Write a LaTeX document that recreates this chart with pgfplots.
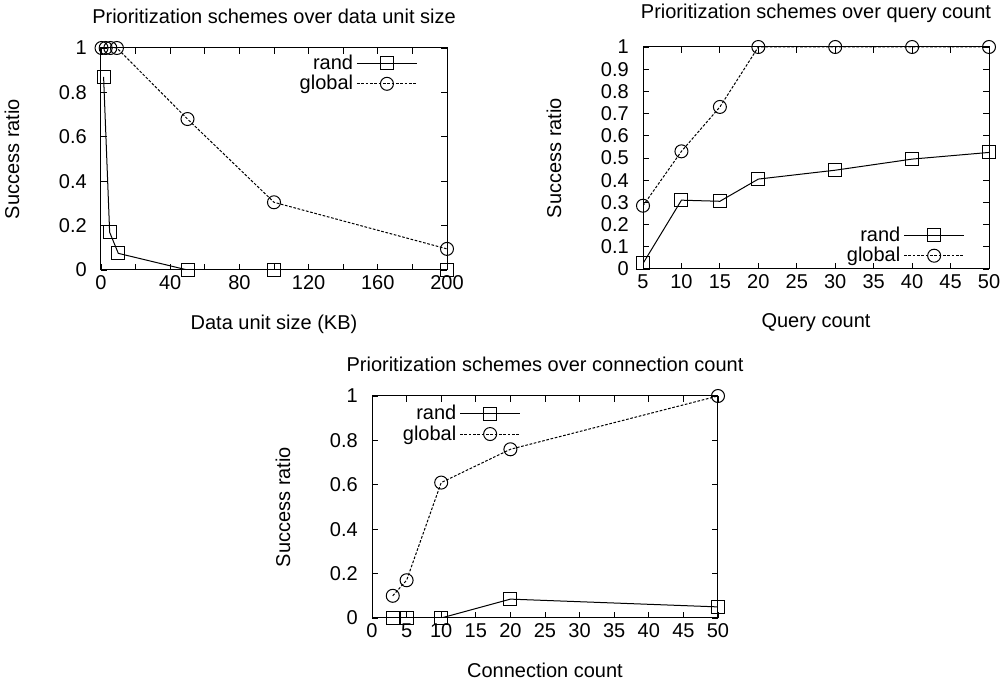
\documentclass[border=0pt]{standalone}
\usepackage{fontspec}
\setmainfont{Liberation Sans}
\usepackage{pgfplots}
\pgfplotsset{compat=1.18}

\pgfplotsset{
  gp/.style={
    scale only axis,
    width=346*0.6pt, height=222*0.6pt,
    anchor=south west,
    font=\fontsize{12}{14}\selectfont,
    /pgf/number format/assume math mode=true,
    ymin=0, ymax=1,
    tick align=inside,
    major tick length=3.5pt,
    minor tick length=3.5pt,
    axis line style={line width=0.6pt},
    every tick/.style={black, line width=0.5pt},
    ylabel={Success ratio},
    title style={yshift=5pt},
    ylabel style={yshift=17pt},
    xlabel style={yshift=-8pt},
    yticklabel style={xshift=-5pt},
    legend style={draw=none, fill=none, font=\fontsize{12}{13}\selectfont, row sep=-2pt},
    legend cell align=right,
    legend plot pos=right,
    legend image code/.code={
      \draw[mark repeat=2,mark phase=2,##1] plot coordinates {(0pt,0pt) (18pt,0pt) (36pt,0pt)};
    },
  },
  rnd/.style={black, line width=0.6pt, mark=square, mark size=3.9pt, mark options={solid}},
  glb/.style={black, line width=0.6pt, dash pattern=on 1.6pt off 1pt, mark=o, mark size=3.9pt, mark options={solid}},
}

\begin{document}
\begin{tikzpicture}
\path[use as bounding box] (0pt,0pt) rectangle (1006*0.6pt,684*0.6pt);

% top left
\begin{axis}[gp, at={(101*0.6pt,414*0.6pt)},
  title={Prioritization schemes over data unit size},
  xlabel={Data unit size (KB)},
  xmin=0, xmax=200,
  xtick={0,40,80,120,160,200},
  minor xtick={20,60,100,140,180},
  ytick={0,0.2,0.4,0.6,0.8,1},
  legend style={at={(0.93,1.0)}, anchor=north east},
]
\addplot[rnd] coordinates {(1.5,0.87) (5,0.17) (10,0.075) (50,0) (100,0) (200,0)};
\addlegendentry{rand}
\addplot[glb] coordinates {(0.3,1) (2.7,1) (5.4,1) (9.2,1) (50,0.68) (100,0.305) (200,0.095)};
\addlegendentry{global}
\end{axis}

% top right
\begin{axis}[gp, at={(643*0.6pt,415*0.6pt)},
  title={Prioritization schemes over query count},
  xlabel={Query count},
  xmin=5, xmax=50,
  xtick={5,10,...,50},
  ytick={0,0.1,...,1.01},
  yticklabels={0,0.1,0.2,0.3,0.4,0.5,0.6,0.7,0.8,0.9,1},
  legend style={at={(0.945,-0.01)}, anchor=south east},
]
\addplot[rnd] coordinates {(5,0.025) (10,0.31) (15,0.305) (20,0.405) (30,0.445) (40,0.495) (50,0.525)};
\addlegendentry{rand}
\addplot[glb] coordinates {(5,0.285) (10,0.53) (15,0.73) (20,1) (30,1) (40,1) (50,1)};
\addlegendentry{global}
\end{axis}

% bottom
\begin{axis}[gp, at={(372*0.6pt,66*0.6pt)},
  title={Prioritization schemes over connection count},
  xlabel={Connection count},
  xmin=0, xmax=50,
  xtick={0,5,...,50},
  ytick={0,0.2,0.4,0.6,0.8,1},
  legend style={at={(0.445,0.99)}, anchor=north east},
]
\addplot[rnd] coordinates {(3,0) (5,0) (10,0) (20,0.085) (50,0.05)};
\addlegendentry{rand}
\addplot[glb] coordinates {(3,0.1) (5,0.17) (10,0.61) (20,0.76) (50,1)};
\addlegendentry{global}
\end{axis}
\end{tikzpicture}
\end{document}
